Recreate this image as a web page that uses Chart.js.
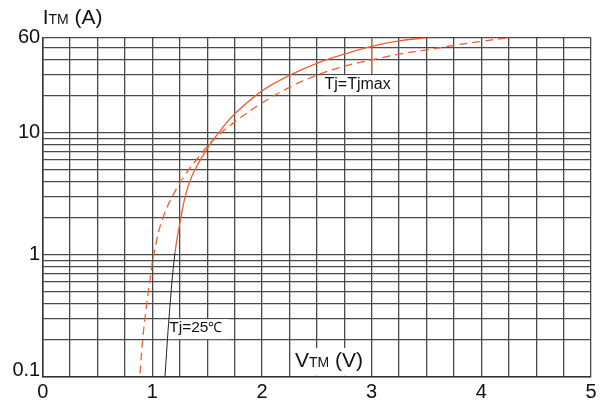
<!DOCTYPE html>
<html>
<head>
<meta charset="utf-8">
<script src="https://cdn.jsdelivr.net/npm/chart.js@4"></script>
<style>
  html, body { margin: 0; padding: 0; background: #fff; }
  #box { width: 609px; height: 405px; }
</style>
</head>
<body>
<div id="box"><canvas id="grafico"></canvas></div>
<script>
// VTM / ITM curves
const vt25 = [1.115, 1.154, 1.206, 1.26, 1.3, 1.37, 1.5, 1.616, 1.75, 2.0, 2.25, 2.5, 2.75, 3.0, 3.25, 3.5];
const it25 = [0.1, 0.32, 1.03, 2.0, 3.0, 4.6, 7.4, 10.3, 14.2, 22, 29.5, 37, 44, 51, 56.5, 60];

const vtMax = [0.887, 0.917, 0.95, 0.978, 1.015, 1.1, 1.25, 1.4, 1.555, 1.75, 2.0, 2.25, 2.5, 2.75, 3.0, 3.25, 3.5, 3.75, 4.0, 4.245];
const itMax = [0.106, 0.227, 0.4, 0.62, 1.03, 2.05, 3.85, 5.97, 8.7, 12.2, 17.5, 23.5, 29.5, 35, 39.4, 44, 47.6, 52, 56, 60];

// leader line of the Tj=Tjmax label
const leaderV = [3.0, 3.0];
const leaderI = [30.7, 60];

// axes
const xTickLabels = [0, 1, 2, 3, 4, 5];
const yTickLabels = [0.1, 1, 10, 60];
const xGridStep = 0.25;

const laranja = '#f0602f';
const grade = '#4a4a4a';
const fonte = 'Liberation Sans, Arial, Helvetica, sans-serif';

const xGrid = [];
for (let v = 0; v <= 5.0001; v += xGridStep) xGrid.push(+v.toFixed(2));
const yGrid = [];
[0.1, 1, 10].forEach(d => {
    for (let k = 1; k <= 9; k++) {
        const v = +(k * d).toFixed(2);
        if (v <= 60) yGrid.push(v);
    }
});
if (!yGrid.includes(60)) yGrid.push(60);

const pares = (xs, ys) => xs.map((x, i) => ({ x: x, y: ys[i] }));

// texts written with a small "TM" like the datasheet
function escreve(ctx, x, y, partes) {
    partes.forEach(p => {
        ctx.font = p[1] + 'px ' + fonte;
        ctx.fillText(p[0], x, y);
        x += ctx.measureText(p[0]).width;
    });
}

const notas = {
    id: 'notas',
    beforeDatasetsDraw(chart) {
        const { ctx, chartArea: a, scales: { x, y } } = chart;
        ctx.save();
        ctx.fillStyle = '#fff';
        // Tj=Tjmax
        ctx.fillRect(x.getPixelForValue(2.55), y.getPixelForValue(30) + 0.8,
            x.getPixelForValue(3.21) - x.getPixelForValue(2.55), y.getPixelForValue(20) - y.getPixelForValue(30) - 1.6);
        // Tj=25
        ctx.fillRect(x.getPixelForValue(1.135), y.getPixelForValue(0.3) + 0.8,
            x.getPixelForValue(1.7) - x.getPixelForValue(1.135), y.getPixelForValue(0.2) - y.getPixelForValue(0.3) - 1.6);
        // VTM (V)
        ctx.fillRect(x.getPixelForValue(2.265), y.getPixelForValue(0.172),
            x.getPixelForValue(2.985) - x.getPixelForValue(2.265), a.bottom - 1 - y.getPixelForValue(0.172));
        ctx.restore();
    },
    afterDatasetsDraw(chart) {
        const { ctx, chartArea: a, scales: { x, y } } = chart;
        ctx.save();
        ctx.fillStyle = '#111';
        ctx.textBaseline = 'alphabetic';
        ctx.textAlign = 'left';
        escreve(ctx, a.left, a.top - 13.7, [['I', 21], ['TM', 14], [' (A)', 21]]);
        escreve(ctx, x.getPixelForValue(2.3), a.bottom - 9.4, [['V', 21], ['TM', 14], [' (V)', 21]]);
        escreve(ctx, x.getPixelForValue(2.57), y.getPixelForValue(23), [['Tj=Tjmax', 16]]);
        escreve(ctx, x.getPixelForValue(1.154), y.getPixelForValue(0.231), [['Tj=25', 15.5], ['℃', 14]]);
        ctx.restore();
    }
};

const ctx = document.getElementById('grafico').getContext('2d');
const grafico = new Chart(ctx, {
    type: 'line',
    data: {
        datasets: [
            {
                label: 'Tj=25℃',
                data: pares(vt25, it25),
                borderColor: laranja,
                borderWidth: 1.3,
                pointRadius: 0,
                tension: 0.4,
                segment: {
                    borderColor: c => c.p1.parsed.y <= 1.05 ? '#222' : laranja,
                    borderWidth: c => c.p1.parsed.y <= 1.05 ? 1 : 1.3
                }
            },
            {
                label: 'Tj=Tjmax',
                data: pares(vtMax, itMax),
                borderColor: laranja,
                borderWidth: 1.3,
                borderDash: [8, 5],
                pointRadius: 0,
                tension: 0.4
            },
            {
                label: 'leader',
                data: pares(leaderV, leaderI),
                borderColor: laranja,
                borderWidth: 1.3,
                pointRadius: 0
            }
        ]
    },
    options: {
        responsive: true,
        maintainAspectRatio: false,
        animation: false,
        layout: { padding: { top: 37.7, right: 18, left: 0, bottom: 0 } },
        plugins: { legend: { display: false }, tooltip: { enabled: false } },
        scales: {
            x: {
                type: 'linear',
                min: 0,
                max: 5,
                afterBuildTicks: s => { s.ticks = xGrid.map(v => ({ value: v })); },
                afterFit: s => { s.height = 28.3; },
                ticks: {
                    autoSkip: false,
                    maxRotation: 0,
                    padding: 4,
                    color: '#111',
                    font: { family: fonte, size: 20 },
                    callback: v => xTickLabels.includes(v) ? String(v) : ''
                },
                grid: { color: grade, lineWidth: 1.3, drawTicks: false },
                border: { color: '#333', width: 1.5 }
            },
            y: {
                type: 'logarithmic',
                min: 0.1,
                max: 60,
                afterBuildTicks: s => { s.ticks = yGrid.map(v => ({ value: v })); },
                afterFit: s => { s.width = 42.7; },
                ticks: {
                    autoSkip: false,
                    padding: 2.5,
                    color: '#111',
                    font: c => (c.tick && c.tick.value === 0.1)
                        ? { family: fonte, size: 20, lineHeight: 0.6 }
                        : { family: fonte, size: 20 },
                    callback: v => yTickLabels.includes(v) ? (v === 0.1 ? ['0.1', ''] : String(v)) : ''
                },
                grid: { color: grade, lineWidth: 1.3, drawTicks: false },
                border: { color: '#333', width: 1.5 }
            }
        }
    },
    plugins: [notas]
});
</script>
</body>
</html>
